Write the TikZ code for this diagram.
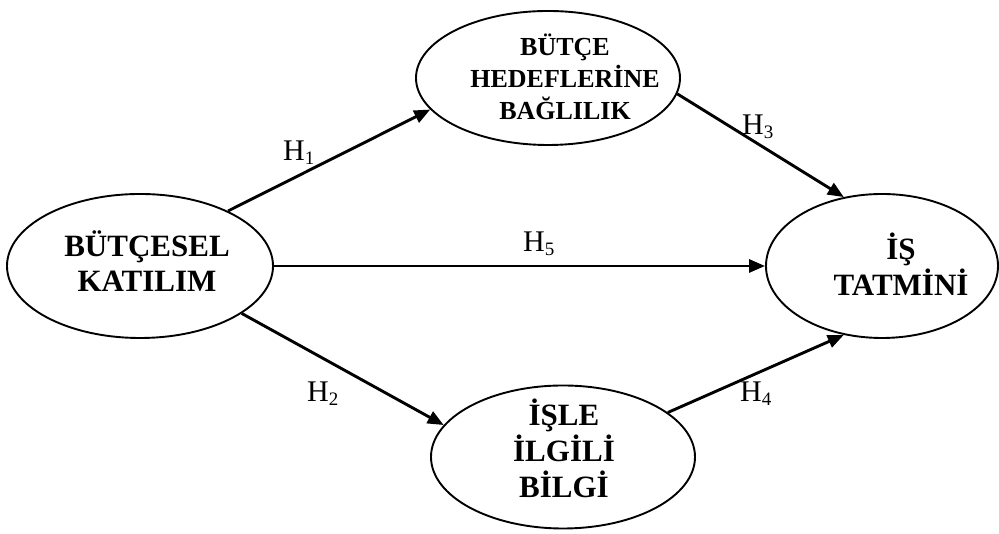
\documentclass[tikz,border=0pt]{standalone}
\usepackage{fontspec}
\setmainfont{Liberation Serif}
\usetikzlibrary{shapes.geometric,arrows.meta}
\newcommand\hsub[1]{{\fontsize{19}{19}\selectfont\raisebox{-4pt}{#1}}}
\begin{document}
\begin{tikzpicture}[x=1pt,y=1pt,
 ell/.style={draw,ellipse,line width=1.9pt,inner sep=0pt},
 etxt/.style={inner sep=0pt,align=center,font=\bfseries\fontsize{31}{35.5}\selectfont},
 arr/.style={line width=2.9pt,-{Triangle[length=16pt,width=13pt]}},
 hlab/.style={anchor=base west,inner sep=0pt,font=\fontsize{30}{30}\selectfont}]
\useasboundingbox (0,0) rectangle (999,534);
\node[ell,minimum width=266pt,minimum height=144pt] (L) at (140,268) {};
\node[ell,minimum width=264pt,minimum height=134pt] (T) at (548,456) {};
\node[ell,minimum width=232pt,minimum height=144pt] (R) at (882,268) {};
\node[ell,minimum width=264pt,minimum height=143pt] (B) at (563,77) {};
\node[etxt] (Lt) at (147,273) {BÜTÇESEL\\KATILIM};
\node[etxt,font=\bfseries\fontsize{26}{32}\selectfont] (Tt) at (565,457) {BÜTÇE\\HEDEFLERİNE\\BAĞLILIK};
\node[etxt] (Rt) at (901,270) {İŞ\\TATMİNİ};
\node[etxt,font=\bfseries\fontsize{31}{36}\selectfont] (Bt) at (564,86) {İŞLE\\İLGİLİ\\BİLGİ};
\draw[arr] (L.32.9) -- (T.195.6);
\draw[arr] (L.0) -- (R.180);
\draw[arr] (L.-25.6) -- (B.165);
\draw[arr] (T.-7.3) -- (R.119.5);
\draw[arr] (B.23.7) -- (R.241.6);
\node[hlab] (h1) at (283,373) {H\hsub{1}};
\node[hlab] (h3) at (742,399) {H\hsub{3}};
\node[hlab] (h5) at (523,282) {H\hsub{5}};
\node[hlab] (h2) at (307,132) {H\hsub{2}};
\node[hlab] (h4) at (740,132) {H\hsub{4}};
\end{tikzpicture}
\end{document}
